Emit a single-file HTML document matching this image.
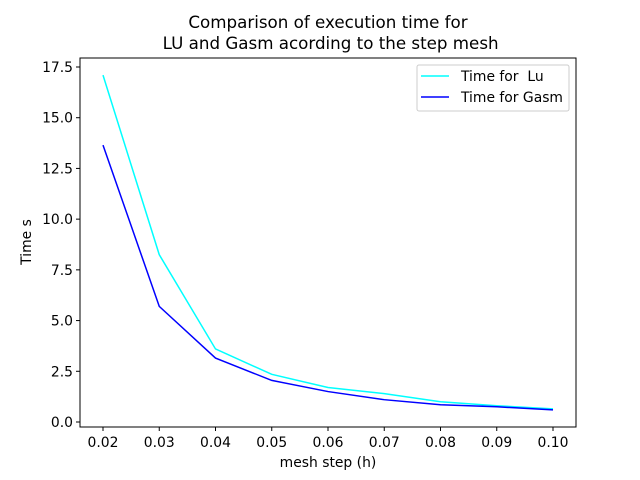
<!DOCTYPE html>
<html><head><meta charset="utf-8"><style>body{margin:0;background:#fff}svg{display:block;font-family:"DejaVu Sans","Liberation Sans",sans-serif}text{white-space:pre}</style></head>
<body>
<svg id="chart" width="640" height="480" xmlns="http://www.w3.org/2000/svg"></svg>
<script>
const xValues=[0.02,0.03,0.04,0.05,0.06,0.07,0.08,0.09,0.10];
const luValues=[17.1,8.25,3.6,2.35,1.7,1.4,1.0,0.8,0.65];
const gasmValues=[13.65,5.7,3.15,2.05,1.5,1.1,0.85,0.75,0.6];
const xTicks=[0.02,0.03,0.04,0.05,0.06,0.07,0.08,0.09,0.10];
const yTicks=[0,2.5,5,7.5,10,12.5,15,17.5];
const L=80,R=576,T=58,B=427;
const sx=v=>103+(v-0.02)*5625;
const sy=v=>422-v*20.286;
const svg=document.getElementById('chart');
const NS='http://www.w3.org/2000/svg';
function mk(tag,attrs,text){const e=document.createElementNS(NS,tag);for(const k in attrs)e.setAttribute(k,attrs[k]);if(text!==undefined)e.textContent=text;svg.appendChild(e);return e;}
let e;
e=mk('rect',{x:L,y:T,width:R-L,height:B-T,fill:'none',stroke:'#000','stroke-width':1});


xTicks.forEach(t=>{const x=sx(t);
e=mk('line',{x1:x,x2:x,y1:B,y2:B+4,stroke:'#000'});


e=mk('text',{x:x,y:B+20,'text-anchor':'middle','font-size':13.9},t.toFixed(2));

});
yTicks.forEach(t=>{const y=sy(t);
e=mk('line',{x1:L-4,x2:L,y1:y,y2:y,stroke:'#000'});


e=mk('text',{x:L-7,y:y+5,'text-anchor':'end','font-size':13.9},t.toFixed(1));

});
function line(vals,color,name){
e=mk('polyline',{points:vals.map((v,i)=>sx(xValues[i])+','+sy(v)).join(' '),fill:'none',stroke:color,'stroke-width':1.5});

}
line(luValues,'#00ffff','lu-line');
line(gasmValues,'#0000ff','gasm-line');
e=mk('text',{x:328,y:467,'text-anchor':'middle','font-size':13.9},'mesh step (h)');


e=mk('text',{x:31,y:242,'text-anchor':'middle','font-size':13.9,transform:'rotate(-90 31 242)'},'Time s');


e=mk('text',{x:328,y:28,'text-anchor':'middle','font-size':16.7},'Comparison of execution time for');


e=mk('text',{x:328,y:49,'text-anchor':'middle','font-size':16.7},' LU and Gasm acording to the step mesh');


e=mk('rect',{x:417,y:65,width:152,height:46,rx:2,fill:'#fff',stroke:'#ccc'});


e=mk('line',{x1:421,x2:449,y1:76,y2:76,stroke:'#00ffff','stroke-width':1.5});


e=mk('text',{x:461,y:81,'font-size':13.9},'Time for  Lu');


e=mk('line',{x1:421,x2:449,y1:97,y2:97,stroke:'#0000ff','stroke-width':1.5});


e=mk('text',{x:461,y:102,'font-size':13.9},'Time for Gasm');


</script>
</body></html>
